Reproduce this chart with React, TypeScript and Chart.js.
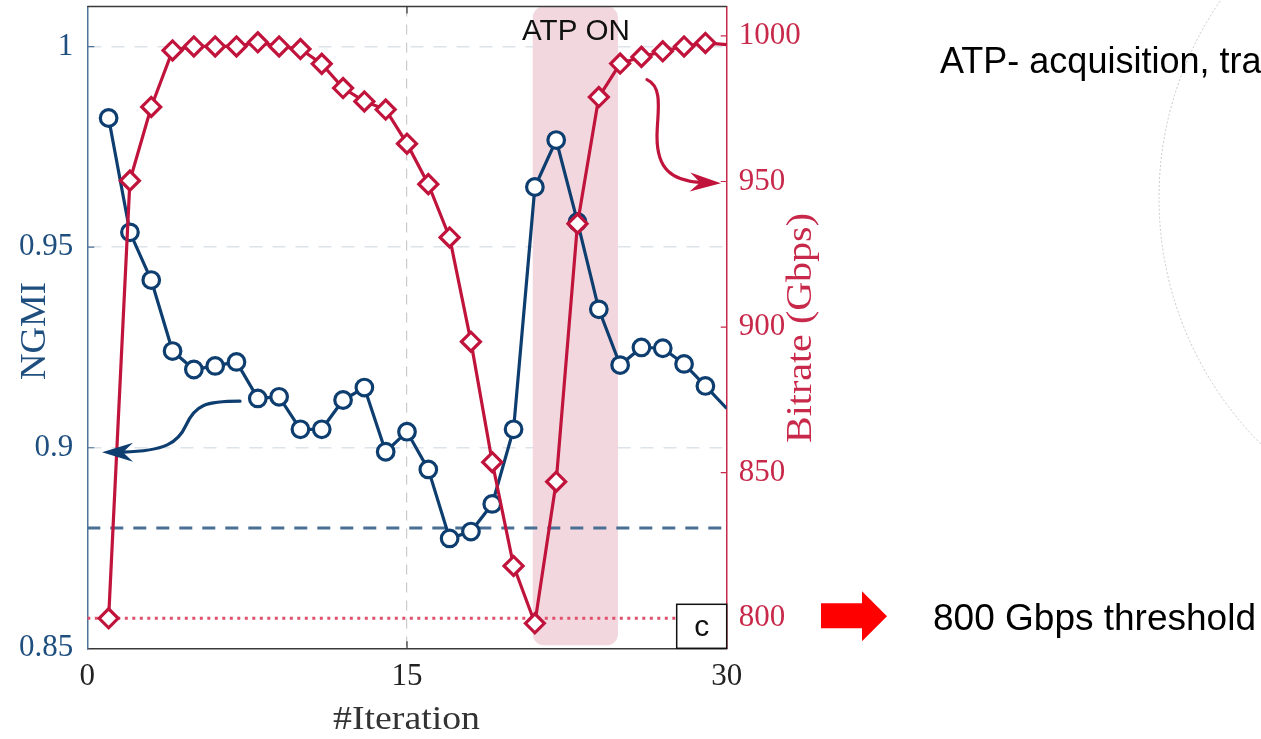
import React, { useEffect, useRef } from "react";
import { Chart, registerables } from "chart.js";

Chart.register(...registerables);

// ---------------- data ----------------
const ITERATIONS = [1, 2, 3, 4, 5, 6, 7, 8, 9, 10, 11, 12, 13, 14, 15, 16, 17, 18, 19, 20, 21, 22, 23, 24, 25, 26, 27, 28, 29, 30];
const NGMI = [0.9822, 0.9537, 0.9418, 0.9241, 0.9195, 0.9204, 0.9214, 0.9123, 0.9127, 0.9046, 0.9046, 0.9119, 0.915, 0.899, 0.904, 0.8946, 0.8774, 0.8791, 0.886, 0.9046, 0.965, 0.9767, 0.9563, 0.9345, 0.9206, 0.925, 0.9248, 0.9209, 0.9154, 0.9098];
const BITRATE = [800.0, 950.3, 975.6, 995.0, 996.4, 996.4, 996.4, 997.8, 996.4, 995.5, 990.4, 982.1, 977.5, 974.7, 963.0, 949.1, 930.8, 895.0, 853.6, 818.0, 798.3, 846.9, 935.5, 979.0, 990.5, 992.8, 994.7, 996.4, 997.6, 997.0];

const NGMI_THRESHOLD = 0.88;
const BITRATE_THRESHOLD = 800;
const THRESHOLD_X = [0, 30];

const X_TICKS = [0, 15, 30];
const NGMI_TICKS = [0.85, 0.9, 0.95, 1];
const BITRATE_TICKS = [800, 850, 900, 950, 1000];
const X_RANGE = [0, 30];
const NGMI_RANGE = [0.85, 1.01];
const BITRATE_RANGE = [789.7, 1010.1];

const ATP_ON_RANGE = [20.9, 24.9];

// annotation arrows (data coordinates)
const BLUE_ARROW_X = [7.165, 5.522, 5.053, 4.631, 4.256, 3.646, 1.769, 0.69];
const BLUE_ARROW_Y = [0.9116, 0.9116, 0.9106, 0.9056, 0.9012, 0.8992, 0.8989, 0.8989];
const RED_ARROW_X = [26.26, 27.06, 26.73, 26.73, 26.73, 27.44, 29.03, 29.73];
const RED_ARROW_Y = [985.0, 982.3, 973.2, 965.4, 954.1, 950.4, 949.6, 949.4];

// ---------------- styles ----------------
const BLUE = "#0e3e6f";
const RED = "#c0143c";
const BLUE_LABEL = "#1f4f7f";
const RED_LABEL = "#c8294a";
const SERIF = "'Liberation Serif', 'Times New Roman', serif";
const SANS = "'Liberation Sans', Arial, sans-serif";

function drawText(
  ctx: CanvasRenderingContext2D,
  text: string,
  x: number,
  y: number,
  font: string,
  color: string,
  align: CanvasTextAlign,
  baseline: CanvasTextBaseline,
  width?: number,
  rotate?: number
) {
  ctx.save();
  ctx.translate(x, y);
  if (rotate) ctx.rotate(rotate);
  ctx.font = font;
  const w = ctx.measureText(text).width;
  if (width && w > 0) ctx.scale(width / w, 1);
  ctx.fillStyle = color;
  ctx.textAlign = align;
  ctx.textBaseline = baseline;
  ctx.fillText(text, 0, 0);
  ctx.restore();
}

function drawCurvedArrow(ctx: CanvasRenderingContext2D, pts: number[][], color: string) {
  ctx.save();
  ctx.strokeStyle = color;
  ctx.fillStyle = color;
  ctx.lineWidth = 3.2;
  ctx.lineCap = "round";
  const tip = pts[7];
  const prev = pts[6];
  const ang = Math.atan2(tip[1] - prev[1], tip[0] - prev[0]);
  const L = 31;
  const hw = 9.5;
  const notch = 21;
  const ca = Math.cos(ang);
  const sa = Math.sin(ang);
  const nx = tip[0] - ca * notch;
  const ny = tip[1] - sa * notch;
  ctx.beginPath();
  ctx.moveTo(pts[0][0], pts[0][1]);
  ctx.bezierCurveTo(pts[1][0], pts[1][1], pts[2][0], pts[2][1], pts[3][0], pts[3][1]);
  ctx.bezierCurveTo(pts[4][0], pts[4][1], pts[5][0], pts[5][1], nx, ny);
  ctx.stroke();
  const bx = tip[0] - ca * L;
  const by = tip[1] - sa * L;
  ctx.beginPath();
  ctx.moveTo(tip[0], tip[1]);
  ctx.lineTo(bx - sa * hw, by + ca * hw);
  ctx.lineTo(nx, ny);
  ctx.lineTo(bx + sa * hw, by - ca * hw);
  ctx.closePath();
  ctx.fill();
  ctx.restore();
}

const decorPlugin = {
  id: "decor",
  beforeDatasetsDraw(chart: any) {
    const ctx: CanvasRenderingContext2D = chart.ctx;
    const { top, bottom } = chart.chartArea;
    const xs = chart.scales.x;
    const l = xs.getPixelForValue(ATP_ON_RANGE[0]);
    const r = xs.getPixelForValue(ATP_ON_RANGE[1]);
    ctx.save();
    ctx.fillStyle = "#f2d8de";
    ctx.beginPath();
    (ctx as any).roundRect(l, top, r - l, bottom - 3 - top, 11);
    ctx.fill();
    ctx.restore();
  },
  afterDraw(chart: any) {
    const ctx: CanvasRenderingContext2D = chart.ctx;
    const { left, right, top, bottom } = chart.chartArea;
    const xs = chart.scales.x;
    const yl = chart.scales.y;
    const yr = chart.scales.y1;

    // top frame line
    ctx.save();
    ctx.strokeStyle = "#3a3a3a";
    ctx.lineWidth = 1.5;
    ctx.beginPath();
    ctx.moveTo(left, top);
    ctx.lineTo(right, top);
    ctx.stroke();

    // inward tick marks
    ctx.strokeStyle = "#333";
    ctx.lineWidth = 1.2;
    const xm = xs.getPixelForValue(15);
    ctx.beginPath();
    ctx.moveTo(xm, bottom);
    ctx.lineTo(xm, bottom - 7);
    ctx.moveTo(xm, top);
    ctx.lineTo(xm, top + 7);
    ctx.stroke();
    ctx.strokeStyle = "#4f7398";
    ctx.beginPath();
    [0.9, 0.95, 1].forEach((v) => {
      const y = yl.getPixelForValue(v);
      ctx.moveTo(left, y);
      ctx.lineTo(left + 7, y);
    });
    ctx.stroke();
    ctx.strokeStyle = RED_LABEL;
    ctx.beginPath();
    BITRATE_TICKS.forEach((v) => {
      const y = yr.getPixelForValue(v);
      ctx.moveTo(right, y);
      ctx.lineTo(right - 6, y);
    });
    ctx.stroke();
    ctx.restore();

    // "c" box
    ctx.save();
    ctx.fillStyle = "#fff";
    ctx.strokeStyle = "#111";
    ctx.lineWidth = 1.5;
    ctx.fillRect(right - 50, bottom - 44, 50, 44);
    ctx.strokeRect(right - 50, bottom - 44, 50, 44);
    ctx.restore();
    drawText(ctx, "c", right - 25, bottom - 21, `30px ${SANS}`, "#111", "center", "middle");

    // ATP ON label
    drawText(ctx, "ATP ON", 576, 32, `29px ${SANS}`, "#111", "center", "middle", 108);

    // axis titles
    drawText(ctx, "NGMI", 35.5, 331, `36px ${SERIF}`, BLUE_LABEL, "center", "middle", 98, -Math.PI / 2);
    drawText(ctx, "Bitrate (Gbps)", 802, 328, `36px ${SERIF}`, RED_LABEL, "center", "middle", 230, -Math.PI / 2);
    drawText(ctx, "#Iteration", 406.5, 720, `34px ${SERIF}`, "#333", "center", "middle", 147);

    // curved arrows
    const bp = BLUE_ARROW_X.map((x, i) => [xs.getPixelForValue(x), yl.getPixelForValue(BLUE_ARROW_Y[i])]);
    drawCurvedArrow(ctx, bp, BLUE);
    const rp = RED_ARROW_X.map((x, i) => [xs.getPixelForValue(x), yr.getPixelForValue(RED_ARROW_Y[i])]);
    drawCurvedArrow(ctx, rp, RED);

    // slide decorations on the right
    ctx.save();
    ctx.strokeStyle = "#c8c8c8";
    ctx.lineWidth = 1;
    ctx.setLineDash([2, 2]);
    ctx.beginPath();
    ctx.arc(1507, 198, 348, 0, Math.PI * 2);
    ctx.stroke();
    ctx.restore();

    drawText(ctx, "ATP- acquisition, tracking", 940, 73, `36px ${SANS}`, "#000", "left", "alphabetic");

    const yT = yr.getPixelForValue(BITRATE_THRESHOLD) - 2;
    ctx.save();
    ctx.fillStyle = "#ff0000";
    ctx.beginPath();
    ctx.moveTo(821, yT - 13);
    ctx.lineTo(862, yT - 13);
    ctx.lineTo(862, yT - 25);
    ctx.lineTo(887, yT);
    ctx.lineTo(862, yT + 25);
    ctx.lineTo(862, yT + 12);
    ctx.lineTo(821, yT + 12);
    ctx.closePath();
    ctx.fill();
    ctx.restore();
    drawText(ctx, "800 Gbps threshold", 933, 630, `36px ${SANS}`, "#000", "left", "alphabetic", 323);
  },
};

const zeroPad = (s: any) => {
  s.paddingTop = 0;
  s.paddingBottom = 0;
  s.paddingLeft = 0;
  s.paddingRight = 0;
};

export default function App() {
  const ref = useRef<HTMLCanvasElement>(null);
  useEffect(() => {
    const last = ITERATIONS.length - 1;
    const chart = new Chart(ref.current as HTMLCanvasElement, {
      type: "line",
      data: {
        datasets: [
          {
            label: "Bitrate",
            data: ITERATIONS.map((x, i) => ({ x, y: BITRATE[i] })),
            yAxisID: "y1",
            borderColor: RED,
            borderWidth: 3.2,
            pointStyle: "rectRot",
            pointRadius: (c: any) => (c.dataIndex === last ? 0 : 9.5),
            pointBorderWidth: 3.2,
            pointBorderColor: RED,
            pointBackgroundColor: "#fff",
            tension: 0,
            order: 0,
          },
          {
            label: "NGMI",
            data: ITERATIONS.map((x, i) => ({ x, y: NGMI[i] })),
            yAxisID: "y",
            borderColor: BLUE,
            borderWidth: 3.2,
            pointStyle: "circle",
            pointRadius: (c: any) => (c.dataIndex === last ? 0 : 8.3),
            pointBorderWidth: 3.2,
            pointBorderColor: BLUE,
            pointBackgroundColor: "#fff",
            tension: 0,
            order: 1,
          },
          {
            label: "NGMI threshold",
            data: THRESHOLD_X.map((x) => ({ x, y: NGMI_THRESHOLD })),
            yAxisID: "y",
            borderColor: "#4a6f94",
            borderWidth: 3,
            borderDash: [13, 10],
            pointRadius: 0,
            order: 2,
          },
          {
            label: "Bitrate threshold",
            data: THRESHOLD_X.map((x) => ({ x, y: BITRATE_THRESHOLD })),
            yAxisID: "y1",
            borderColor: "#e0506a",
            borderWidth: 3,
            borderDash: [3, 4.5],
            pointRadius: 0,
            order: 3,
          },
        ],
      },
      options: {
        responsive: false,
        animation: false,
        devicePixelRatio: 1,
        layout: { autoPadding: false, padding: { top: 6.5, left: 0, right: 0, bottom: 0 } },
        plugins: { legend: { display: false }, tooltip: { enabled: false } },
        scales: {
          x: {
            type: "linear",
            min: X_RANGE[0],
            max: X_RANGE[1],
            afterBuildTicks: (s: any) => {
              s.ticks = X_TICKS.map((value) => ({ value }));
            },
            ticks: {
              color: "#222",
              font: { family: SERIF, size: 31 },
              padding: 10,
              maxRotation: 0,
              autoSkip: false,
              callback: (v: any) => String(v),
            },
            grid: {
              drawTicks: false,
              lineWidth: 1.2,
              color: (c: any) => (c.tick && c.tick.value === 15 ? "#cacaca" : "rgba(0,0,0,0)"),
            },
            border: { display: true, color: "#3a3a3a", width: 1.5, dash: [10, 8] },
            afterFit: (s: any) => {
              s.height = 90.7;
              zeroPad(s);
            },
          },
          y: {
            type: "linear",
            position: "left",
            min: NGMI_RANGE[0],
            max: NGMI_RANGE[1],
            afterBuildTicks: (s: any) => {
              s.ticks = NGMI_TICKS.map((value) => ({ value }));
            },
            ticks: {
              color: BLUE_LABEL,
              font: { family: SERIF, size: 31 },
              padding: 14,
              callback: (v: any) => String(v),
            },
            grid: {
              drawTicks: false,
              lineWidth: 1.5,
              color: (c: any) => (c.tick && c.tick.value === 0.85 ? "rgba(0,0,0,0)" : "#dce3ea"),
            },
            border: { display: true, color: "#4f7398", width: 1.5, dash: [13, 10] },
            afterFit: (s: any) => {
              s.width = 87.3;
              zeroPad(s);
            },
          },
          y1: {
            type: "linear",
            position: "right",
            min: BITRATE_RANGE[0],
            max: BITRATE_RANGE[1],
            afterBuildTicks: (s: any) => {
              s.ticks = BITRATE_TICKS.map((value) => ({ value }));
            },
            ticks: {
              color: RED_LABEL,
              font: { family: SERIF, size: 31 },
              padding: 12,
              callback: (v: any) => String(v),
            },
            grid: { display: false, drawTicks: false },
            border: { display: true, color: RED_LABEL, width: 1.5 },
            afterFit: (s: any) => {
              s.width = 534.3;
              zeroPad(s);
            },
          },
        },
      } as any,
      plugins: [decorPlugin],
    });
    return () => chart.destroy();
  }, []);

  return (
    <div style={{ position: "fixed", left: 0, top: 0, width: 1261, height: 739, background: "#fff" }}>
      <canvas ref={ref} width={1261} height={739} style={{ display: "block", width: 1261, height: 739 }} />
    </div>
  );
}
